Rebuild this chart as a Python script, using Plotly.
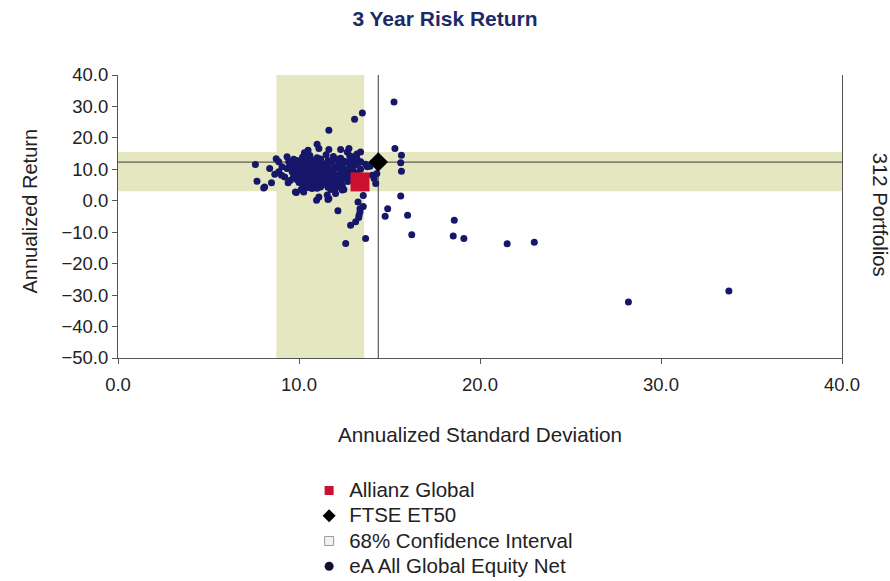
import plotly.graph_objects as go

# ---------------- data ----------------
title_text = "3 Year Risk Return"
x_title = "Annualized Standard Deviation"
y_title = "Annualized Return"
side_label = "312 Portfolios"

x_ticks = [0, 10, 20, 30, 40]
y_ticks = [-50, -40, -30, -20, -10, 0, 10, 20, 30, 40]

fund_name = "Allianz Global"
fund_sd = [13.37]
fund_ret = [6.0]

bench_name = "FTSE ET50"
bench_sd = [14.38]
bench_ret = [12.3]

ci_name = "68% Confidence Interval"
ci_sd = [8.75, 13.6]
ci_ret = [3.0, 15.5]

peer_name = "eA All Global Equity Net"
peer_sd = [
    15.25, 13.5, 13.07, 11.65, 15.3, 15.66, 15.62, 15.66, 15.62, 14.9,
    14.76, 16.0, 16.23, 13.68, 12.58, 12.85, 13.13, 13.32, 13.37, 13.55,
    13.26, 12.15, 10.97, 11.6, 13.55, 18.58, 18.52, 19.11, 21.5, 23.0,
    28.2, 33.75, 13.37, 13.3, 7.59, 7.68, 8.1, 8.48, 12.39, 11.0,
    10.5, 12.76, 13.2, 13.4, 12.67, 12.3, 11.65, 11.1, 14.3, 14.15,
    14.24, 13.68, 13.92, 14.05, 13.77, 13.41, 9.85, 10.12, 9.8, 10.26,
    11.56, 11.1, 12.02, 12.39, 8.38, 8.74, 8.88, 8.66, 8.88, 9.06,
    9.34, 9.43, 9.34, 9.21, 9.03, 9.62, 9.53, 9.4, 9.71, 9.9,
    9.99, 9.8, 10.08, 9.99, 10.17, 10.3, 10.21, 10.64, 10.91, 12.94,
    8.05, 10.17, 10.72, 11.19, 11.75, 12.1, 12.48, 11.65,
    10.2, 10.6, 11.0, 11.5, 11.9, 12.3, 12.8,
    9.7, 10.0, 10.4, 10.8, 11.2, 11.6, 12.1, 12.5, 12.9, 13.2,
    9.6, 9.9, 10.3, 10.6, 11.0, 11.4, 11.8, 12.2, 12.6, 13.0, 13.3,
    9.5, 9.8, 10.1, 10.5, 10.9, 11.2, 11.6, 12.0, 12.4, 12.8, 13.1,
    9.6, 10.0, 10.3, 10.7, 11.0, 11.4, 11.8, 12.2, 12.5, 12.9, 13.4,
    9.7, 10.1, 10.4, 10.8, 11.1, 11.5, 11.9, 12.3, 12.7, 13.0,
    9.8, 10.2, 10.5, 10.9, 11.3, 11.7, 12.0, 12.4, 12.8, 13.2,
    9.7, 10.0, 10.4, 10.7, 11.1, 11.5, 11.8, 12.2, 12.6, 13.0,
    9.9, 10.3, 10.6, 11.0, 11.4, 11.7, 12.1, 12.5, 12.8,
    10.0, 10.4, 10.8, 11.2, 11.5, 11.9, 12.3, 12.7,
    10.3, 10.7, 11.1, 11.4, 11.8, 12.2,
    10.5, 11.0, 11.6, 12.0,
]
peer_ret = [
    31.4, 27.9, 25.9, 22.4, 16.6, 14.5, 12.1, 9.4, 1.5, -2.5,
    -4.9, -4.6, -10.8, -12.0, -13.6, -7.8, -6.7, -4.6, -2.5, -1.8,
    -0.4, -3.2, 0.2, 0.4, 1.7, -6.2, -11.2, -12.0, -13.7, -13.2,
    -32.2, -28.7, -3.5, -5.3, 11.5, 6.2, 4.4, 5.7, 4.9, 18.0,
    16.1, 16.6, 14.9, 15.5, 15.5, 16.3, 16.3, 16.6, 8.7, 7.1,
    5.5, 11.6, 11.0, 8.1, 10.8, 12.4, 2.6, 3.6, 2.8, 2.8,
    1.8, 1.2, 2.3, 3.4, 10.3, 13.4, 12.4, 8.4, 9.2, 10.8,
    14.0, 12.4, 10.3, 7.6, 8.1, 9.2, 6.5, 5.7, 11.3, 10.3,
    11.9, 12.9, 8.7, 7.1, 5.5, 15.3, 3.9, 6.0, 4.4, 14.0,
    4.1, 3.4, 3.9, 4.4, 3.6, 4.4, 3.6, 0.7,
    13.9, 14.4, 13.7, 14.6, 14.1, 13.5, 14.3,
    13.2, 12.7, 13.4, 12.9, 13.3, 12.8, 13.2, 12.6, 13.1, 13.4,
    12.0, 12.4, 11.9, 12.3, 12.1, 11.7, 12.4, 12.0, 12.3, 11.8, 12.1,
    11.0, 11.5, 11.1, 11.4, 10.9, 11.5, 11.2, 10.8, 11.4, 11.0, 11.3,
    10.2, 10.6, 10.1, 10.5, 10.0, 10.4, 10.1, 10.5, 9.9, 10.3, 10.0,
    9.6, 9.3, 9.7, 9.2, 9.5, 9.1, 9.6, 9.3, 9.7, 9.4,
    8.5, 8.8, 8.4, 8.7, 8.3, 8.6, 8.2, 8.7, 8.4, 8.8,
    7.8, 7.5, 7.9, 7.4, 7.7, 7.3, 7.8, 7.5, 7.9, 7.6,
    6.7, 7.0, 6.6, 6.9, 6.5, 7.0, 6.7, 7.1, 6.5,
    5.8, 6.1, 5.7, 6.0, 5.5, 5.9, 5.6, 6.1,
    4.9, 5.2, 4.8, 5.3, 4.9, 5.1,
    4.2, 4.0, 4.3, 3.9,
]

# ---------------- styles ----------------
FONT = "Liberation Sans, Arial, sans-serif"
NAVY = "#16166a"
RED = "#cc1030"
BAND = "#e5e7c1"
AXIS = "#555555"
TXT = "#222222"

fig = go.Figure()

# peer universe
fig.add_trace(go.Scatter(
    x=peer_sd, y=peer_ret, mode="markers", name=peer_name, showlegend=False,
    marker=dict(symbol="circle", size=7, color=NAVY, line=dict(width=0)),
))
# fund
fig.add_trace(go.Scatter(
    x=fund_sd, y=fund_ret, mode="markers", name=fund_name, showlegend=False,
    marker=dict(symbol="square", size=19, color=RED, line=dict(width=0)),
))
# benchmark
fig.add_trace(go.Scatter(
    x=bench_sd, y=bench_ret, mode="markers", name=bench_name, showlegend=False,
    marker=dict(symbol="diamond", size=15, color="black", line=dict(width=0)),
))

# legend entries
def leg(name, **marker):
    fig.add_trace(go.Scatter(
        x=[None], y=[None], mode="markers",
        name='<span style="font-size:20.5px">' + name + "</span>",
        marker=marker, showlegend=True,
    ))

leg(fund_name, symbol="square", size=9, color=RED)
leg(bench_name, symbol="diamond", size=10, color="black")
leg(ci_name, symbol="square", size=9, color="#f2f2f2", line=dict(color="#9a9a9a", width=1))
leg(peer_name, symbol="circle", size=9, color="#111133")

shapes = [
    # confidence bands
    dict(type="rect", xref="x", yref="paper", x0=ci_sd[0], x1=ci_sd[1], y0=0, y1=1,
         fillcolor=BAND, line=dict(width=0), layer="below"),
    dict(type="rect", xref="paper", yref="y", x0=0, x1=1, y0=ci_ret[0], y1=ci_ret[1],
         fillcolor=BAND, line=dict(width=0), layer="below"),
    # benchmark crosshair
    dict(type="line", xref="x", yref="paper", x0=bench_sd[0], x1=bench_sd[0], y0=0, y1=1,
         line=dict(color="#3a3a3a", width=1), layer="below"),
    dict(type="line", xref="paper", yref="y", x0=0, x1=1, y0=bench_ret[0], y1=bench_ret[0],
         line=dict(color="#3a3a3a", width=1), layer="below"),
]

annotations = [
    dict(text=x_title, xref="paper", yref="paper", x=0.5, y=-0.27, xanchor="center",
         yanchor="middle", showarrow=False, font=dict(family=FONT, size=20.7, color=TXT)),
    dict(text=y_title, xref="paper", yref="paper", x=-0.122, y=0.52, xanchor="center",
         yanchor="middle", textangle=-90, showarrow=False,
         font=dict(family=FONT, size=20, color=TXT)),
    dict(text=side_label, xref="paper", yref="paper", x=1.053, y=0.505, xanchor="center",
         yanchor="middle", textangle=90, showarrow=False,
         font=dict(family=FONT, size=20.3, color=TXT)),
]

fig.update_layout(
    width=890, height=581,
    margin=dict(l=118, r=48, t=75, b=223, autoexpand=False),
    paper_bgcolor="white", plot_bgcolor="white",
    font=dict(family=FONT, color=TXT),
    title=dict(text="<b>" + title_text + "</b>", x=0.5, xanchor="center",
               y=1 - 19 / 581, yanchor="middle", xref="container", yref="container",
               font=dict(family=FONT, size=21, color="#1c2a66")),
    shapes=shapes,
    annotations=annotations,
    showlegend=True,
    legend=dict(x=0.264, xanchor="left", y=-0.406, yanchor="top",
                font=dict(family=FONT, size=17.1, color=TXT),
                bgcolor="rgba(0,0,0,0)", borderwidth=0, traceorder="normal"),
    xaxis=dict(range=[0, 40], tickvals=x_ticks, tickformat=".1f", showgrid=False,
               zeroline=False, showline=True, linecolor=AXIS, linewidth=1,
               ticks="outside", ticklen=5, tickcolor=AXIS, ticklabelstandoff=5,
               tickfont=dict(family=FONT, size=18.5, color=TXT)),
    yaxis=dict(range=[-50, 40], tickvals=y_ticks, tickformat=".1f", showgrid=False,
               zeroline=False, showline=True, mirror=True, linecolor=AXIS, linewidth=1,
               ticks="outside", ticklen=5, tickcolor=AXIS,
               tickfont=dict(family=FONT, size=18.5, color=TXT)),
)

fig.write_html("out.html", config={"displayModeBar": False},
               post_script="document.body.style.margin='0';")
